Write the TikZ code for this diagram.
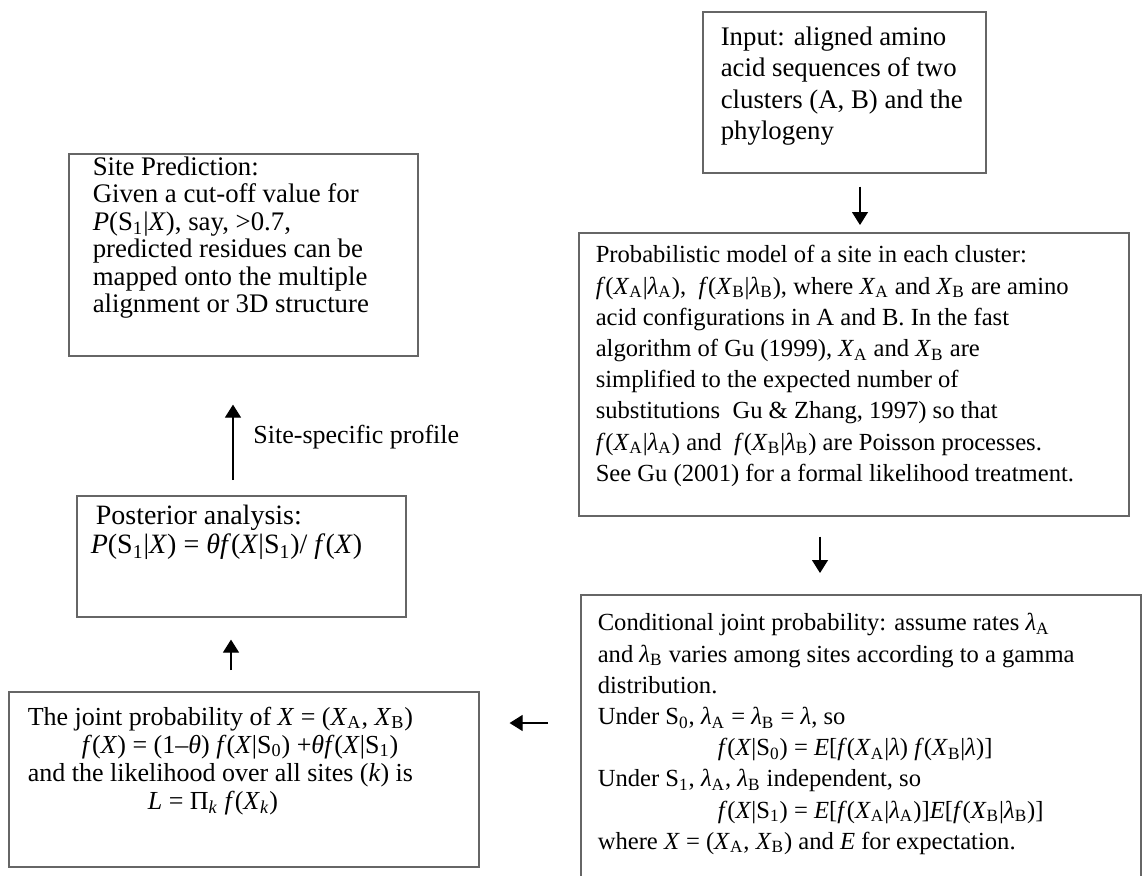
\documentclass[tikz,border=0pt]{standalone}
\usepackage{fontspec}
\setmainfont{Liberation Serif}
\usetikzlibrary{arrows.meta}

\newcommand{\Xs}[1]{\textit{X}\textsubscript{#1}}
\newcommand{\lam}[1]{\textit{λ}\textsubscript{#1}}
\newcommand{\ffn}{\textit{f}}
% height, width, top gap, font size, line skip, text
\newcommand{\stagetext}[6]{\parbox[t][#1][t]{#2}{\raggedright\fontsize{#4}{#5}\selectfont\lineskiplimit=-\maxdimen\vspace*{#3}#6}}

\begin{document}
\begin{tikzpicture}[x=0.5pt, y=-0.5pt,
    stage/.style={draw=black!60, line width=0.8pt, anchor=north west, inner ysep=0pt},
    flow/.style={-{Triangle[length=6.5pt, width=8pt]}, line width=0.6pt}
  ]
  \useasboundingbox (0,0) rectangle (1148,875);
  \clip (0,0) rectangle (1148,875);

  % right column
  \node[stage, inner xsep=9pt] (input) at (702,11) {\stagetext{80.5pt}{123.5pt}{7.3pt}{13.4}{15.8pt}{%
    Input: aligned amino\\
    acid sequences of two\\
    clusters (A, B) and the\\
    phylogeny}};
  \node[stage, inner xsep=8.5pt] (model) at (578,232) {\stagetext{141.5pt}{258pt}{6.4pt}{12.3}{15.6pt}{%
    Probabilistic model of a site in each cluster:\\
    \ffn(\Xs{A}|\lam{A}), \ \ffn(\Xs{B}|\lam{B}), where \Xs{A} and \Xs{B} are amino\\
    acid configurations in A and B. In the fast\\
    algorithm of Gu (1999), \Xs{A} and \Xs{B} are\\
    simplified to the expected number of\\
    substitutions\ \ Gu \& Zhang, 1997) so that\\
    \ffn(\Xs{A}|\lam{A}) and \ \ffn(\Xs{B}|\lam{B}) are Poisson processes.\\
    See Gu (2001) for a formal likelihood treatment.}};
  \node[stage, inner xsep=8.5pt] (cond) at (580,594) {\stagetext{145.5pt}{263pt}{9.4pt}{12.3}{15.6pt}{%
    Conditional joint probability: assume rates \lam{A}\\
    and \lam{B} varies among sites according to a gamma\\
    distribution.\\
    Under S\textsubscript{0}, \lam{A} = \lam{B} = \textit{λ}, so\\
    \hspace*{60pt}\ffn(\textit{X}|S\textsubscript{0}) = \textit{E}[\ffn(\Xs{A}|\textit{λ}) \ffn(\Xs{B}|\textit{λ})]\\
    Under S\textsubscript{1}, \lam{A}, \lam{B} independent, so\\
    \hspace*{60pt}\ffn(\textit{X}|S\textsubscript{1}) = \textit{E}[\ffn(\Xs{A}|\lam{A})]\textit{E}[\ffn(\Xs{B}|\lam{B})]\\
    where \textit{X} = (\Xs{A}, \Xs{B}) and \textit{E} for expectation.}};

  % left column
  \node[stage, inner xsep=9.5pt] (joint) at (8,691) {\stagetext{87.5pt}{216pt}{7.5pt}{13}{14pt}{%
    The joint probability of \textit{X} = (\Xs{A}, \Xs{B})\\
    \hspace*{27pt}\ffn(\textit{X}) = (1–\textit{θ}) \ffn(\textit{X}|S\textsubscript{0}) +\textit{θ}\ffn(\textit{X}|S\textsubscript{1})\\
    and the likelihood over all sites (\textit{k}) is\\
    \hspace*{60pt}\textit{L} = Π\textsubscript{\textit{k}} \ffn(\Xs{\textit{k}})}};
  \node[stage, inner xsep=7pt] (posterior) at (76,495) {\stagetext{60.5pt}{150.5pt}{4.8pt}{14}{14.5pt}{%
    \hspace*{2.5pt}Posterior analysis:\\
    \textit{P}(S\textsubscript{1}|\textit{X}) = \textit{θ}\ffn(\textit{X}|S\textsubscript{1})/ \ffn(\textit{X})}};
  \node[stage, inner xsep=12pt] (site) at (68,153) {\stagetext{101pt}{150.5pt}{1.5pt}{13.4}{13.7pt}{%
    Site Prediction:\\
    Given a cut-off value for\\
    \textit{P}(S\textsubscript{1}|\textit{X}), say, >0.7,\\
    predicted residues can be\\
    mapped onto the multiple\\
    alignment or 3D structure}};

  % arrows
  \coordinate (ax1) at (860,0);
  \coordinate (ax2) at (820,0);
  \coordinate (ay3) at (0,723);
  \coordinate (ax4) at (231,0);
  \coordinate (ax5) at (233,0);
  \draw[flow, shorten <=6.5pt, shorten >=3.5pt] (input.south -| ax1) -- (model.north -| ax1);
  \draw[flow, shorten <=10pt, shorten >=10.5pt] (model.south -| ax2) -- (cond.north -| ax2);
  \draw[flow, shorten <=16pt, shorten >=15pt] (cond.west |- ay3) -- (joint.east |- ay3);
  \draw[flow, shorten <=10.5pt, shorten >=11pt] (joint.north -| ax4) -- (posterior.south -| ax4);
  \draw[flow, shorten <=7.5pt, shorten >=24pt] (posterior.north -| ax5) -- (site.south -| ax5);
  \node[anchor=west, inner sep=0pt, font=\fontsize{13}{15}\selectfont] (profile) at (253,437) {Site-specific profile};
\end{tikzpicture}
\end{document}
